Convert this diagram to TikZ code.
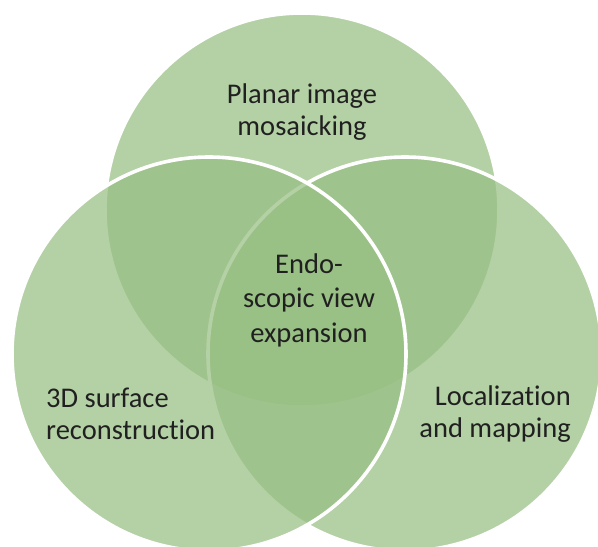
\documentclass[tikz,border=0pt]{standalone}
\usepackage{fontspec}
\setmainfont{Carlito}[Ligatures={NoCommon}]
\definecolor{venngreen}{RGB}{152,191,131}
\definecolor{labelgray}{RGB}{32,32,32}
\begin{document}
\begin{tikzpicture}[x=1pt,y=-1pt,
  setdisc/.style={circle, minimum size=394pt, inner sep=0pt, outer sep=0pt,
    fill=venngreen, fill opacity=0.72, draw=white, draw opacity=1, line width=3.6pt},
  vlabel/.style={text=labelgray, font=\fontsize{28.5}{32}\selectfont, inner sep=0pt}]
\clip (0,0) rectangle (598,547);
\fill[white] (0,0) rectangle (598,547);
% the three overlapping sets, drawn top, right, left
\node[setdisc] (planar) at (302,210) {};
\node[setdisc] (local)  at (405,354) {};
\node[setdisc] (recon)  at (209,354) {};
% labels
\node[vlabel, align=center] (tplanar) at (302,112) {Planar image\\mosaicking};
\node[vlabel, align=center, font=\fontsize{28.5}{34.5}\selectfont] (tcenter) at (309,300) {Endo-\\scopic view\\expansion};
\node[vlabel, align=left, anchor=west] (trecon) at (46,414) {3D surface\\reconstruction};
\node[vlabel, align=right, anchor=east] (tlocal) at (571,414) {Localization\\and mapping};
\end{tikzpicture}
\end{document}
